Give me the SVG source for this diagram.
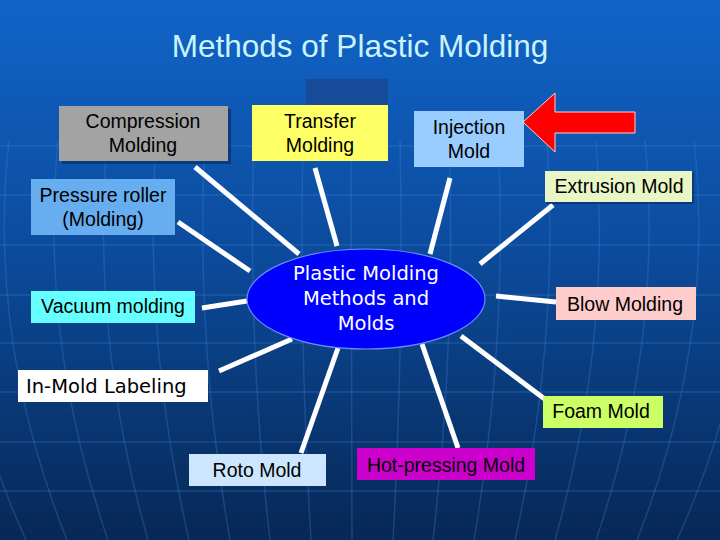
<svg xmlns="http://www.w3.org/2000/svg" width="720" height="540" viewBox="0 0 720 540">
<defs>
<linearGradient id="bg" x1="0" y1="0" x2="0" y2="1">
<stop offset="0" stop-color="#1164c8"/>
<stop offset="0.45" stop-color="#0c4c9e"/>
<stop offset="1" stop-color="#072855"/>
</linearGradient>
<style>
.grid{stroke:#3f86d8;stroke-width:1.5;fill:none;opacity:0.3}
.box{stroke:none}
.t{font-family:"Liberation Sans",Arial,sans-serif;font-size:19.5px;fill:#000;text-anchor:middle}
.v{font-family:"DejaVu Sans",Verdana,sans-serif;font-size:19.5px;text-anchor:middle}
.conn line{stroke:#ffffff;stroke-width:5;stroke-linecap:butt}
.shadow{fill:#0a2a5a;opacity:0.6}
</style>
</defs>
<rect width="720" height="540" fill="url(#bg)"/>
<g id="grid">
<path class="grid" d="M0 146H720M0 195H720M0 245H720M0 295H720M0 343H720M0 392H720M0 442H720M0 491H720"/>
<path class="grid" d="M351 140Q351 340 352 540M303 140Q299 340 311 540M254 140Q247 340 270 540M205 140Q195 340 230 540M156 140Q143 340 189 540M107 140Q91 340 148 540M58 140Q39 340 108 540M9 140Q-13 340 67 540M-40 140Q-65 340 26 540M400 140Q404 340 393 540M449 140Q456 340 433 540M498 140Q508 340 474 540M547 140Q560 340 515 540M596 140Q612 340 555 540M645 140Q664 340 596 540M694 140Q716 340 637 540M743 140Q768 340 677 540"/>
</g>
<text x="360" y="57" font-family="'Liberation Sans',Arial,sans-serif" font-size="31.5" fill="#c8f4ff" text-anchor="middle">Methods of Plastic Molding</text>
<rect x="306" y="79" width="82" height="27" fill="#174a98"/>
<g class="conn" id="connectors">
<line x1="195" y1="167" x2="299" y2="254"/>
<line x1="315" y1="168" x2="337" y2="246"/>
<line x1="450" y1="178" x2="430" y2="254"/>
<line x1="553" y1="205" x2="480" y2="264"/>
<line x1="178" y1="222" x2="250" y2="271"/>
<line x1="202" y1="308" x2="247" y2="301"/>
<line x1="496" y1="296" x2="556" y2="302"/>
<line x1="219" y1="371" x2="292" y2="339"/>
<line x1="301" y1="453" x2="338" y2="348"/>
<line x1="458" y1="448" x2="422" y2="344"/>
<line x1="546" y1="400" x2="461" y2="336"/>
</g>
<g id="center">
<ellipse cx="366" cy="299" rx="119" ry="50" fill="#0000ff" stroke="#6a8cff" stroke-width="1.2"/>
<text class="v" fill="#ffffff"><tspan x="366" y="280">Plastic Molding</tspan><tspan x="366" y="305">Methods and</tspan><tspan x="366" y="330">Molds</tspan></text>
</g>
<g id="compression">
<rect class="shadow" x="62" y="109" width="169" height="55"/>
<rect class="box" x="59" y="106" width="169" height="55" fill="#a3a3a3"/>
<text class="t"><tspan x="143" y="128">Compression</tspan><tspan x="143" y="152">Molding</tspan></text>
</g>
<g id="transfer">
<rect class="box" x="252" y="105" width="136" height="56" fill="#ffff66"/>
<text class="t"><tspan x="320" y="128">Transfer</tspan><tspan x="320" y="152">Molding</tspan></text>
</g>
<g id="injection">
<rect class="box" x="414" y="111" width="110" height="56" fill="#99ccff"/>
<text class="t"><tspan x="469" y="134">Injection</tspan><tspan x="469" y="158">Mold</tspan></text>
</g>
<g id="arrow">
<polygon points="523,122 555,93 555,112 635,112 635,133 555,133 555,152" fill="#ff0000" stroke="#ffd0d0" stroke-width="1"/>
</g>
<g id="extrusion">
<rect class="shadow" x="547" y="173" width="147" height="31"/>
<rect class="box" x="545" y="171" width="147" height="31" fill="#e8f5c4"/>
<text class="t" x="619" y="193">Extrusion Mold</text>
</g>
<g id="pressure">
<rect class="box" x="31" y="179" width="144" height="56" fill="#66aef0"/>
<text class="t"><tspan x="103" y="202">Pressure roller</tspan><tspan x="103" y="226">(Molding)</tspan></text>
</g>
<g id="vacuum">
<rect class="box" x="31" y="291" width="164" height="32" fill="#66ffff"/>
<text class="t" x="113" y="313">Vacuum molding</text>
</g>
<g id="inmold">
<rect class="box" x="18" y="370" width="190" height="32" fill="#ffffff"/>
<text class="v" x="26" y="393" fill="#000" style="text-anchor:start">In-Mold Labeling</text>
</g>
<g id="blow">
<rect class="box" x="556" y="287" width="140" height="33" fill="#ffcccc"/>
<text class="t" x="625" y="311">Blow Molding</text>
</g>
<g id="foam">
<rect class="box" x="543" y="396" width="120" height="32" fill="#ccff66"/>
<text class="t" x="601" y="418">Foam Mold</text>
</g>
<g id="hotpressing">
<rect class="box" x="357" y="448" width="178" height="32" fill="#cc00cc"/>
<text class="t" x="446" y="472" fill="#220022">Hot-pressing Mold</text>
</g>
<g id="roto">
<rect class="box" x="189" y="454" width="137" height="32" fill="#cce6ff"/>
<text class="t" x="257" y="477">Roto Mold</text>
</g>
</svg>
